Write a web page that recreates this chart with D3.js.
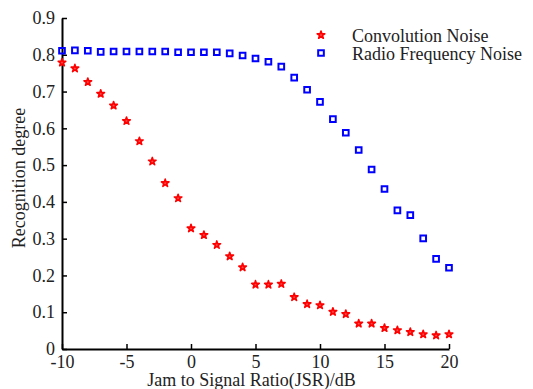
<!DOCTYPE html>
<html>
<head>
<meta charset="utf-8">
<script src="https://cdn.jsdelivr.net/npm/d3@7"></script>
<style>
  body { margin: 0; background: #fff; }
</style>
</head>
<body>
<svg id="chart" width="533" height="389"></svg>
<script>
const jsr = d3.range(-10, 21);
const convolutionNoise = [0.779, 0.763, 0.726, 0.694, 0.662, 0.620, 0.565, 0.510, 0.451, 0.410,
  0.328, 0.310, 0.283, 0.252, 0.222, 0.175, 0.175, 0.177, 0.141, 0.122,
  0.119, 0.101, 0.095, 0.069, 0.069, 0.057, 0.051, 0.046, 0.040, 0.037, 0.040];
const radioFrequencyNoise = [0.811, 0.812, 0.811, 0.808, 0.809, 0.809, 0.809, 0.809, 0.809, 0.807,
  0.807, 0.807, 0.807, 0.804, 0.798, 0.790, 0.781, 0.768, 0.738, 0.705,
  0.672, 0.625, 0.588, 0.541, 0.488, 0.435, 0.377, 0.364, 0.301, 0.245, 0.221];
const xTicks = [-10, -5, 0, 5, 10, 15, 20];
const yTicks = [0, 0.1, 0.2, 0.3, 0.4, 0.5, 0.6, 0.7, 0.8, 0.9];
const seriesNames = ["Convolution Noise", "Radio Frequency Noise"];

const fontFamily = '"Liberation Serif"';

const svg = d3.select("#chart");
const margin = { top: 18, right: 84, bottom: 40, left: 62 };
const width = 533 - margin.left - margin.right;
const height = 389 - margin.top - margin.bottom;

const g = svg.append("g")
  .attr("transform", `translate(${margin.left},${margin.top})`);

const x = d3.scaleLinear().domain([-10, 20]).range([0, width]);
const y = d3.scaleLinear().domain([0, 0.9]).range([height, 0]);

// axes, ticks pointing inward like matlab
const xAxis = g.append("g")
  .attr("transform", `translate(0,${height})`)
  .call(d3.axisBottom(x).tickValues(xTicks).tickSizeInner(-5).tickSizeOuter(0).tickPadding(9)
    .tickFormat(d => String(d))); // plain hyphen, not unicode minus
const yAxis = g.append("g")
  .call(d3.axisLeft(y).tickValues(yTicks).tickSizeInner(-5).tickSizeOuter(0).tickPadding(7)
    .tickFormat(d => d === 0 ? "0" : d3.format(".1f")(d)));

[xAxis, yAxis].forEach(a => {
  a.select(".domain").attr("stroke", "#000").attr("stroke-width", 2);
  a.selectAll(".tick line").attr("stroke", "#000").attr("stroke-width", 1.5);
  a.selectAll(".tick text")
    .style("font-family", fontFamily)
    .style("font-size", "18px")
    .attr("fill", "#222");
});
xAxis.selectAll(".tick text").attr("dy", "0.55em");

// markers
const star = d3.symbol().type(d3.symbolStar).size(18);
const square = d3.symbol().type(d3.symbolSquare).size(32);

g.selectAll(".conv")
  .data(jsr.map((d, i) => [d, convolutionNoise[i]]))
  .enter().append("path")
  .attr("class", "conv")
  .attr("d", star)
  .attr("transform", d => `translate(${x(d[0])},${y(d[1])})`)
  .attr("fill", "#ff5050")
  .attr("stroke", "#ff0000")
  .attr("stroke-width", 1.6)
  .attr("stroke-linejoin", "round");

g.selectAll(".rf")
  .data(jsr.map((d, i) => [d, radioFrequencyNoise[i]]))
  .enter().append("path")
  .attr("class", "rf")
  .attr("d", square)
  .attr("transform", d => `translate(${x(d[0])},${y(d[1])})`)
  .attr("fill", "none")
  .attr("stroke", "#0000ff")
  .attr("stroke-width", 2);

// legend
const legend = svg.append("g");
const lx = 321, ly = [35, 53];
legend.append("path").attr("d", star)
  .attr("transform", `translate(${lx},${ly[0]})`)
  .attr("fill", "#ff5050").attr("stroke", "#ff0000").attr("stroke-width", 1.6)
  .attr("stroke-linejoin", "round");
legend.append("path").attr("d", square)
  .attr("transform", `translate(${lx},${ly[1]})`)
  .attr("fill", "none").attr("stroke", "#0000ff").attr("stroke-width", 2);
seriesNames.forEach((name, i) => {
  legend.append("text")
    .attr("x", 352).attr("y", ly[i] + 7)
    .style("font-family", fontFamily)
    .style("font-size", "18px")
    .attr("fill", "#222")
    .text(name);
});

// axis labels
svg.append("text")
  .attr("x", margin.left + width / 2 - 4)
  .attr("y", 386)
  .attr("text-anchor", "middle")
  .style("font-family", fontFamily)
  .style("font-size", "18px")
  .attr("fill", "#222")
  .text("Jam to Signal Ratio(JSR)/dB");

svg.append("text")
  .attr("transform", `translate(25,${margin.top + 160}) rotate(-90)`)
  .attr("text-anchor", "middle")
  .style("font-family", fontFamily)
  .style("font-size", "18px")
  .attr("fill", "#222")
  .text("Recognition degree");
</script>
</body>
</html>
